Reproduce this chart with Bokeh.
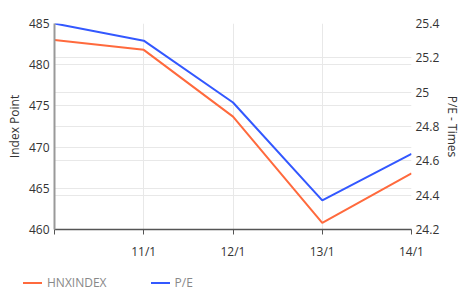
from bokeh.plotting import figure
from bokeh.layouts import column
from bokeh.models import Range1d, LinearAxis, FixedTicker, Grid, Div
from bokeh.embed import file_html
from bokeh.resources import INLINE

dates = ["10/1", "11/1", "12/1", "13/1", "14/1"]
hnx_index = [483.0, 481.8, 473.7, 460.8, 466.8]
pe_ratio = [25.40, 25.30, 24.94, 24.37, 24.64]
left_ticks = [460, 465, 470, 475, 480, 485]
right_ticks = [24.2, 24.4, 24.6, 24.8, 25.0, 25.2, 25.4]
right_tick_labels = ["24.2", "24.4", "24.6", "24.8", "25", "25.2", "25.4"]
series_names = ["HNXINDEX", "P/E"]
series_colors = ["#ff6a3d", "#3358ff"]

FONT = "Open Sans"
xs = list(range(len(dates)))

p = figure(width=465, height=262, output_backend="svg", toolbar_location=None,
           x_range=Range1d(0, len(dates) - 1), y_range=Range1d(460, 485),
           min_border_left=54, min_border_right=54, min_border_top=23, min_border_bottom=31)
p.extra_y_ranges = {"pe": Range1d(24.2, 25.4)}
p.outline_line_color = None
p.background_fill_color = "white"
p.border_fill_color = "white"

# x axis
p.xaxis.ticker = FixedTicker(ticks=xs)
p.xaxis.major_label_overrides = {i: (d if i > 0 else "") for i, d in enumerate(dates)}
p.xaxis.axis_line_color = "#555555"
p.xaxis.axis_line_width = 1.5
p.xaxis.major_tick_line_color = "#555555"
p.xaxis.major_tick_in = 0
p.xaxis.major_tick_out = 5
p.xaxis.minor_tick_line_color = None
p.xaxis.minor_tick_out = 0
p.xaxis.major_label_text_font = FONT
p.xaxis.major_label_text_font_size = "12px"
p.xaxis.major_label_text_color = "#333333"
p.xaxis.major_label_standoff = 8

# left axis
p.yaxis.ticker = FixedTicker(ticks=left_ticks)
p.yaxis.axis_label = "Index Point"
p.yaxis.axis_label_text_font = FONT
p.yaxis.axis_label_text_font_size = "12px"
p.yaxis.axis_label_text_font_style = "normal"
p.yaxis.axis_label_text_color = "#333333"
p.yaxis.axis_label_standoff = 3
p.yaxis.axis_line_color = "#999999"
p.yaxis.axis_line_width = 2
p.yaxis.major_tick_line_color = None
p.yaxis.minor_tick_line_color = None
p.yaxis.major_tick_in = 0
p.yaxis.major_tick_out = 0
p.yaxis.minor_tick_in = 0
p.yaxis.minor_tick_out = 0
p.yaxis.major_label_text_font = FONT
p.yaxis.major_label_text_font_size = "12px"
p.yaxis.major_label_text_color = "#333333"
p.yaxis.major_label_standoff = 5

# right axis
ra = LinearAxis(y_range_name="pe", ticker=FixedTicker(ticks=right_ticks),
                major_label_overrides={t: l for t, l in zip(right_ticks, right_tick_labels)},
                axis_label="P/E - Times")
ra.axis_label_text_font = FONT
ra.axis_label_text_font_size = "12px"
ra.axis_label_text_font_style = "normal"
ra.axis_label_text_color = "#333333"
ra.axis_label_standoff = 2
ra.axis_line_color = None
ra.major_tick_line_color = None
ra.minor_tick_line_color = None
ra.major_tick_in = 0
ra.major_tick_out = 0
ra.minor_tick_in = 0
ra.minor_tick_out = 0
ra.major_label_text_font = FONT
ra.major_label_text_font_size = "12px"
ra.major_label_text_color = "#333333"
ra.major_label_standoff = 4
p.add_layout(ra, "right")

# grids
p.xgrid.grid_line_color = "#e8e8e8"
p.ygrid.grid_line_color = "#e8e8e8"
g2 = Grid(dimension=1, ticker=FixedTicker(ticks=right_ticks), y_range_name="pe",
          grid_line_color="#e8e8e8")
p.add_layout(g2)

p.line(xs, hnx_index, line_color=series_colors[0], line_width=2)
p.line(xs, pe_ratio, line_color=series_colors[1], line_width=2, y_range_name="pe")

# legend strip below the chart (HTML)
item_margins = [23, 44]
parts = []
for name, color, ml in zip(series_names, series_colors, item_margins):
    parts.append(
        f'<span style="display:inline-block;margin-left:{ml}px;width:19px;height:2px;'
        f'background:{color};vertical-align:middle;"></span>'
        f'<span style="display:inline-block;margin-left:5px;vertical-align:middle;">{name}</span>'
    )
legend_html = ('<div style="font-family:\'Open Sans\';font-size:12px;color:#888888;'
               'line-height:16px;padding-top:12px;white-space:nowrap;">'
               + "".join(parts) + '</div>')
legend_div = Div(text=legend_html, width=465, height=29, margin=(0, 0, 0, 0))

layout = column(p, legend_div, spacing=0)
open("out.html", "w").write(file_html(layout, INLINE))
